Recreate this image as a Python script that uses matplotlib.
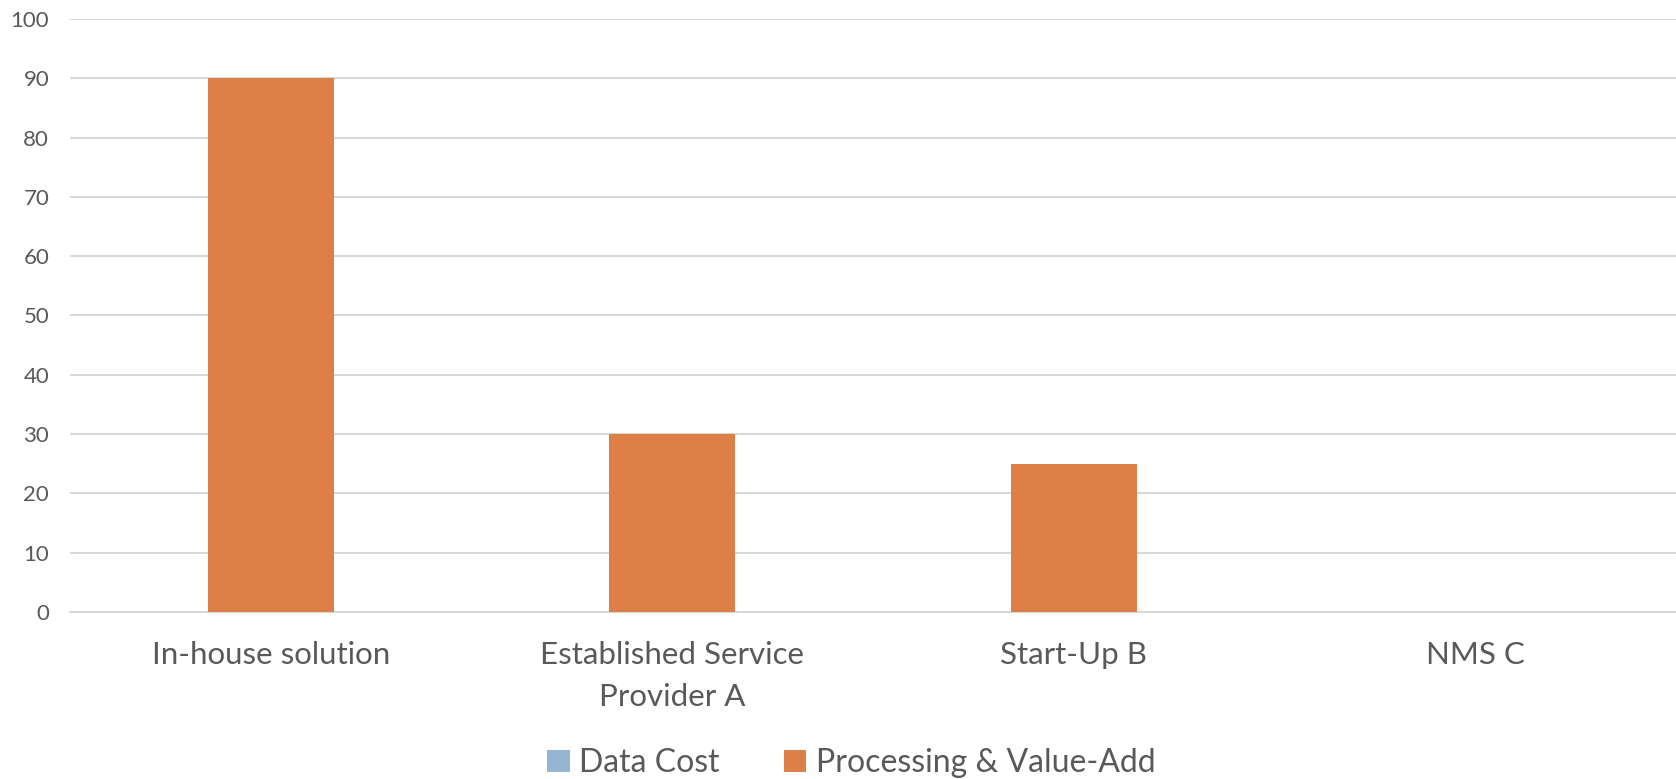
import matplotlib.pyplot as plt
import numpy as np

categories = ["In-house solution", "Established Service\nProvider A", "Start-Up B", "NMS C"]
data_cost = [0, 0, 0, 0]
processing = [90, 30, 25, 0]
y_ticks = [0, 10, 20, 30, 40, 50, 60, 70, 80, 90, 100]

text_grey = "#595959"
grid_grey = "#d9d9d9"
blue = "#94b6d2"
orange = "#dd8047"

plt.rcParams['font.family'] = ['Lato', 'DejaVu Sans']

fig = plt.figure(figsize=(16.76, 7.79), dpi=100)
ax = fig.add_axes([0.0418, 0.2144, 0.958, 0.7612])

x = np.arange(len(categories))
ax.bar(x, data_cost, width=0.314, color=blue, label="Data Cost", zorder=3)
ax.bar(x, processing, width=0.314, bottom=data_cost, color=orange,
       label="Processing & Value-Add", zorder=3)

ax.set_xlim(-0.5, len(categories) - 0.5)
ax.set_ylim(0, 100)
ax.set_yticks(y_ticks)
ax.set_xticks(x)
ax.set_xticklabels(categories, fontsize=22.5, color=text_grey, linespacing=1.6)
ax.tick_params(axis='y', length=0, pad=15, labelsize=16, labelcolor=text_grey)
ax.tick_params(axis='x', length=0, pad=21)

ax.yaxis.grid(True, color=grid_grey, linewidth=1.5, zorder=0)
for s in ['left', 'right', 'top']:
    ax.spines[s].set_visible(False)
ax.spines['bottom'].set_color(grid_grey)
ax.spines['bottom'].set_linewidth(1.5)

fig.legend(loc='center', bbox_to_anchor=(0.508, 0.02), ncol=2, frameon=False,
           fontsize=23, labelcolor=text_grey, handlelength=0.7, handleheight=0.7,
           handletextpad=0.3, columnspacing=2.0)

fig.savefig("out.png", dpi=100)
